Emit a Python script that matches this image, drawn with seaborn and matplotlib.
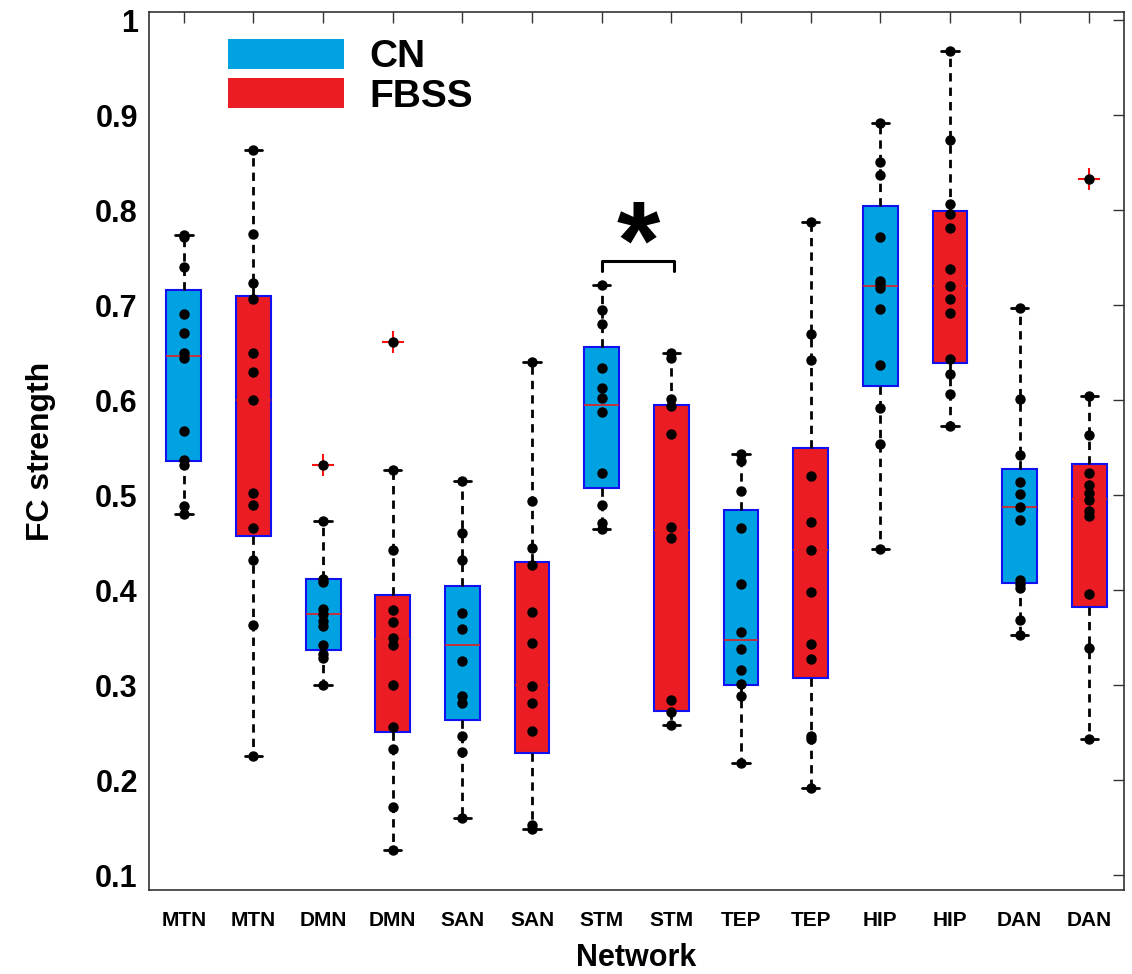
import numpy as np
import pandas as pd
import matplotlib
matplotlib.use("Agg")
import matplotlib.pyplot as plt
import seaborn as sns
from matplotlib.patches import Patch

# box labels (CN / FBSS alternate)
networks = ["MTN", "MTN", "DMN", "DMN", "SAN", "SAN", "STM", "STM",
            "TEP", "TEP", "HIP", "HIP", "DAN", "DAN"]
groups = ["CN", "FBSS"] * 7

# individual subject values per box
points = [
    [0.774, 0.772, 0.740, 0.691, 0.671, 0.650, 0.644, 0.567, 0.537, 0.532, 0.489, 0.480],
    [0.863, 0.775, 0.723, 0.706, 0.650, 0.630, 0.600, 0.502, 0.490, 0.465, 0.432, 0.363, 0.225],
    [0.532, 0.473, 0.412, 0.409, 0.380, 0.375, 0.367, 0.362, 0.342, 0.333, 0.328, 0.300],
    [0.661, 0.526, 0.442, 0.379, 0.366, 0.350, 0.342, 0.300, 0.256, 0.233, 0.172, 0.126],
    [0.515, 0.460, 0.432, 0.376, 0.359, 0.325, 0.289, 0.281, 0.246, 0.230, 0.160],
    [0.640, 0.494, 0.444, 0.426, 0.377, 0.344, 0.299, 0.281, 0.252, 0.153, 0.149],
    [0.721, 0.695, 0.680, 0.634, 0.613, 0.602, 0.588, 0.523, 0.490, 0.471, 0.464],
    [0.650, 0.644, 0.601, 0.594, 0.564, 0.466, 0.455, 0.284, 0.272, 0.258],
    [0.543, 0.536, 0.504, 0.465, 0.406, 0.356, 0.338, 0.316, 0.301, 0.288, 0.218],
    [0.788, 0.670, 0.642, 0.520, 0.472, 0.442, 0.398, 0.343, 0.327, 0.246, 0.243, 0.192],
    [0.892, 0.851, 0.837, 0.772, 0.725, 0.722, 0.718, 0.696, 0.637, 0.592, 0.554, 0.443],
    [0.968, 0.874, 0.807, 0.796, 0.781, 0.738, 0.720, 0.707, 0.692, 0.643, 0.628, 0.606, 0.573],
    [0.697, 0.601, 0.542, 0.514, 0.501, 0.488, 0.474, 0.411, 0.406, 0.402, 0.369, 0.353],
    [0.833, 0.604, 0.563, 0.523, 0.511, 0.502, 0.495, 0.483, 0.478, 0.396, 0.339, 0.243],
]

# box statistics as drawn
q1 = [0.536, 0.457, 0.337, 0.251, 0.263, 0.228, 0.507, 0.273, 0.300, 0.307, 0.615, 0.639, 0.407, 0.382]
med = [0.646, 0.600, 0.375, 0.348, 0.342, 0.300, 0.595, 0.463, 0.347, 0.442, 0.720, 0.720, 0.488, 0.496]
q3 = [0.716, 0.710, 0.412, 0.395, 0.404, 0.430, 0.656, 0.595, 0.484, 0.550, 0.804, 0.799, 0.527, 0.533]
whislo = [0.480, 0.225, 0.300, 0.126, 0.160, 0.149, 0.464, 0.258, 0.218, 0.192, 0.443, 0.573, 0.353, 0.243]
whishi = [0.774, 0.863, 0.473, 0.526, 0.515, 0.640, 0.721, 0.650, 0.543, 0.788, 0.892, 0.968, 0.697, 0.604]
outliers = [[], [], [0.532], [0.661], [], [], [], [], [], [], [], [], [], [0.833]]

sig_pair = (6, 7)
sig_y = 0.746

palette = {"CN": "#00A2E2", "FBSS": "#EC1C24"}

sns.set_style("white")
plt.rcParams['font.family'] = ['Liberation Sans', 'DejaVu Sans']
plt.rcParams['text.color'] = 'black'
plt.rcParams['axes.labelcolor'] = 'black'

fig = plt.figure(figsize=(11.32, 9.74), dpi=100)
ax = fig.add_axes([0.1316, 0.086, 0.8614, 0.902])

stats = []
for i in range(len(networks)):
    stats.append(dict(med=med[i], q1=q1[i], q3=q3[i], whislo=whislo[i],
                      whishi=whishi[i], fliers=outliers[i]))

bp = ax.bxp(stats, positions=range(len(networks)), widths=0.5, patch_artist=True,
            boxprops=dict(edgecolor="#1010F0", linewidth=1.5),
            medianprops=dict(color="#E02020", linewidth=1.2),
            whiskerprops=dict(color="black", linewidth=2, linestyle=(0, (3, 2.2))),
            capprops=dict(color="black", linewidth=2),
            flierprops=dict(marker="+", markeredgecolor="#FF1010", markersize=16,
                            markeredgewidth=1.5))
for patch, g in zip(bp["boxes"], groups):
    patch.set_facecolor(palette[g])

ids = [f"{n}_{g}" for n, g in zip(networks, groups)]
df = pd.DataFrame({
    "box": [ids[i] for i in range(len(points)) for _ in points[i]],
    "fc": [v for p in points for v in p],
})
sns.stripplot(data=df, x="box", y="fc", order=ids, jitter=False, color="black",
              size=7.5, linewidth=0, ax=ax, zorder=5)

# significance bracket
a, b = sig_pair
ax.plot([a, a, b + 0.04, b + 0.04], [sig_y - 0.01, sig_y, sig_y, sig_y - 0.01],
        color="black", lw=2.2)
ax.text((a + b) / 2 + 0.02, 0.728, "*", fontsize=80, fontweight="bold",
        ha="center", va="baseline")

ax.set_xlim(-0.5, 13.5)
ax.set_ylim(0.084, 1.009)
ax.set_xticks(range(len(networks)))
ax.set_xticklabels(networks, fontsize=15, fontweight="bold")
yt = [0.1, 0.2, 0.3, 0.4, 0.5, 0.6, 0.7, 0.8, 0.9, 1.0]
ax.set_yticks(yt)
ax.set_yticklabels(["0.1", "0.2", "0.3", "0.4", "0.5", "0.6", "0.7", "0.8", "0.9", "1"],
                   fontsize=22, fontweight="bold")
ax.tick_params(direction="in", length=8, width=1, top=True, right=True,
               colors="#333333", labelcolor="black", pad=8)
ax.tick_params(axis="x", pad=15)
for s in ax.spines.values():
    s.set_color("#333333")
    s.set_linewidth(1.2)

ax.set_xlabel("Network", fontsize=22, fontweight="bold", labelpad=9)
ax.set_ylabel("FC strength", fontsize=23, fontweight="bold", labelpad=28)

handles = [Patch(facecolor=palette["CN"], edgecolor="none"),
           Patch(facecolor=palette["FBSS"], edgecolor="none")]
ax.legend(handles, ["CN", "FBSS"], loc="upper left", bbox_to_anchor=(0.081, 0.969),
          frameon=False, prop=dict(weight="bold", size=28), handlelength=2.98,
          handleheight=0.8, handletextpad=0.65, labelspacing=0.08,
          borderpad=0, borderaxespad=0)

fig.savefig("out.png", dpi=100)
